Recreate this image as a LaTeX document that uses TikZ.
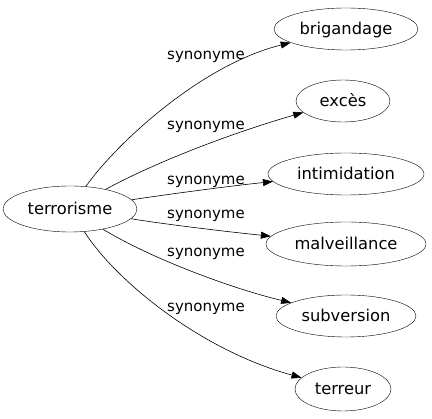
\documentclass[tikz,border=0pt]{standalone}
\usepackage{fontspec}
\setmainfont{DejaVu Sans}
\usetikzlibrary{shapes.geometric,arrows.meta}
\begin{document}
\begin{tikzpicture}[x=1pt,y=-1pt,
  word/.style={draw,ellipse,inner sep=0pt,font=\fontsize{16.3}{19}\selectfont,text height=12pt,text depth=0pt},
  rel/.style={font=\fontsize{15}{18}\selectfont,anchor=base,inner sep=0pt},
  edge/.style={-{Triangle[length=10pt,width=7pt]},line width=0.6pt}]
\useasboundingbox (0,0) rectangle (432,419);
\node[word,minimum width=134pt,minimum height=46pt] (t) at (70,209) {terrorisme};
\node[word,minimum width=144pt,minimum height=42pt] (b) at (346,29) {brigandage};
\node[word,minimum width=94pt,minimum height=42pt] (e) at (343,101) {excès};
\node[word,minimum width=156pt,minimum height=42pt] (i) at (346,174) {intimidation};
\node[word,minimum width=160pt,minimum height=44pt] (m) at (346,244) {malveillance};
\node[word,minimum width=140pt,minimum height=42pt] (s) at (346,316) {subversion};
\node[word,minimum width=96pt,minimum height=44pt] (r) at (343,389) {terreur};
\draw[edge] (t) .. controls (115,145) and (200,65) .. (b);
\draw[edge] (t) .. controls (150,165) and (225,135) .. (e);
\draw[edge] (t) .. controls (170,194) and (230,186) .. (i);
\draw[edge] (t) .. controls (170,225) and (230,232) .. (m);
\draw[edge] (t) .. controls (150,258) and (230,288) .. (s);
\draw[edge] (t) .. controls (115,280) and (200,350) .. (r);
\node[rel] (l1) at (206,60) {synonyme};
\node[rel] (l2) at (206,130) {synonyme};
\node[rel] (l3) at (206,185) {synonyme};
\node[rel] (l4) at (206,219) {synonyme};
\node[rel] (l5) at (206,257) {synonyme};
\node[rel] (l6) at (206,312) {synonyme};
\end{tikzpicture}
\end{document}
